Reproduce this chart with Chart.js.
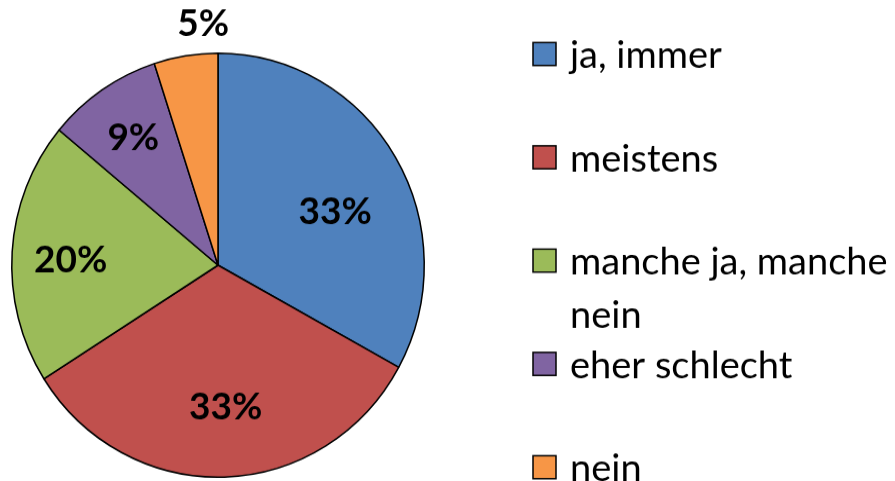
<!DOCTYPE html>
<html>
<head>
<meta charset="utf-8">
<script src="https://cdn.jsdelivr.net/npm/chart.js@4.4.1/dist/chart.umd.min.js"></script>
<style>
  html, body { margin: 0; padding: 0; background: #fff; }
  #wrap { width: 895px; height: 481px; position: relative; }
</style>
</head>
<body>
<!-- the original pie is a little taller than wide, so the canvas is stretched -->
<div id="wrap"><canvas id="myChart" width="895" height="468" style="display:block;width:895px;height:481px"></canvas></div>
<script>
const categories = ['ja, immer', 'meistens', 'manche ja, manche nein', 'eher schlecht', 'nein'];
const percentValues = [33, 33, 20, 9, 5];
const sliceColors = ['#4F81BD', '#C0504D', '#9BBB59', '#8064A2', '#F79646'];

const STRETCH = 481 / 468;

// percentage labels on the slices, small slices go outside
const sliceLabels = {
    id: 'sliceLabels',
    afterDatasetsDraw(chart, args, opts) {
        const ctx = chart.ctx;
        const meta = chart.getDatasetMeta(0);
        const data = chart.data.datasets[0].data;
        ctx.save();
        ctx.scale(1, 1 / STRETCH);
        ctx.font = 'bold 37px Lato, "Open Sans", sans-serif';
        ctx.fillStyle = '#000';
        ctx.textAlign = 'center';
        ctx.textBaseline = 'middle';
        meta.data.forEach((arc, i) => {
            const p = arc.getProps(['x', 'y', 'startAngle', 'endAngle', 'outerRadius'], true);
            const mid = (p.startAngle + p.endAngle) / 2 + opts.turn[i] * Math.PI / 180;
            const lx = p.x + Math.cos(mid) * p.outerRadius * opts.radial[i];
            const ly = p.y + Math.sin(mid) * p.outerRadius * opts.radial[i];
            ctx.fillText(data[i] + '%', lx, ly * STRETCH);
        });
        ctx.restore();
    }
};

// legend on the right, with wrapping of long labels
const sideLegend = {
    id: 'sideLegend',
    afterDraw(chart) {
        const ctx = chart.ctx;
        const boxX = 533, textX = 570, top = 54, step = 103.3, lineH = 53, box = 23;
        const maxW = chart.width - textX - 2;
        ctx.save();
        ctx.scale(1, 1 / STRETCH);
        ctx.font = '38px Lato, "Open Sans", sans-serif';
        ctx.textBaseline = 'middle';
        ctx.textAlign = 'left';
        categories.forEach((name, i) => {
            const cy = top + i * step;
            ctx.fillStyle = sliceColors[i];
            ctx.fillRect(boxX, cy - box / 2, box, box);
            ctx.strokeStyle = '#000';
            ctx.lineWidth = 1.5;
            ctx.strokeRect(boxX, cy - box / 2, box, box);

            const words = name.split(' ');
            const lines = [];
            let line = '';
            words.forEach(w => {
                const test = line ? line + ' ' + w : w;
                if (line && ctx.measureText(test).width > maxW) {
                    lines.push(line);
                    line = w;
                } else {
                    line = test;
                }
            });
            lines.push(line);
            ctx.fillStyle = '#000';
            lines.forEach((l, k) => ctx.fillText(l, textX, cy + k * lineH + 2));
        });
        ctx.restore();
    }
};

const ctxPie = document.getElementById('myChart').getContext('2d');
new Chart(ctxPie, {
    type: 'pie',
    data: {
        labels: categories,
        datasets: [{
            data: percentValues,
            backgroundColor: sliceColors,
            borderColor: '#000',
            borderWidth: 1.5
        }]
    },
    options: {
        responsive: false,
        animation: false,
        layout: { padding: { left: 11, right: 470, top: 51, bottom: 3 } },
        plugins: {
            legend: { display: false },
            tooltip: { enabled: false },
            sliceLabels: {
                radial: [0.62, 0.67, 0.715, 0.725, 1.14],
                turn: [7, -1.4, -1.7, -0.3, 5.4]
            }
        }
    },
    plugins: [sliceLabels, sideLegend]
});
</script>
</body>
</html>
